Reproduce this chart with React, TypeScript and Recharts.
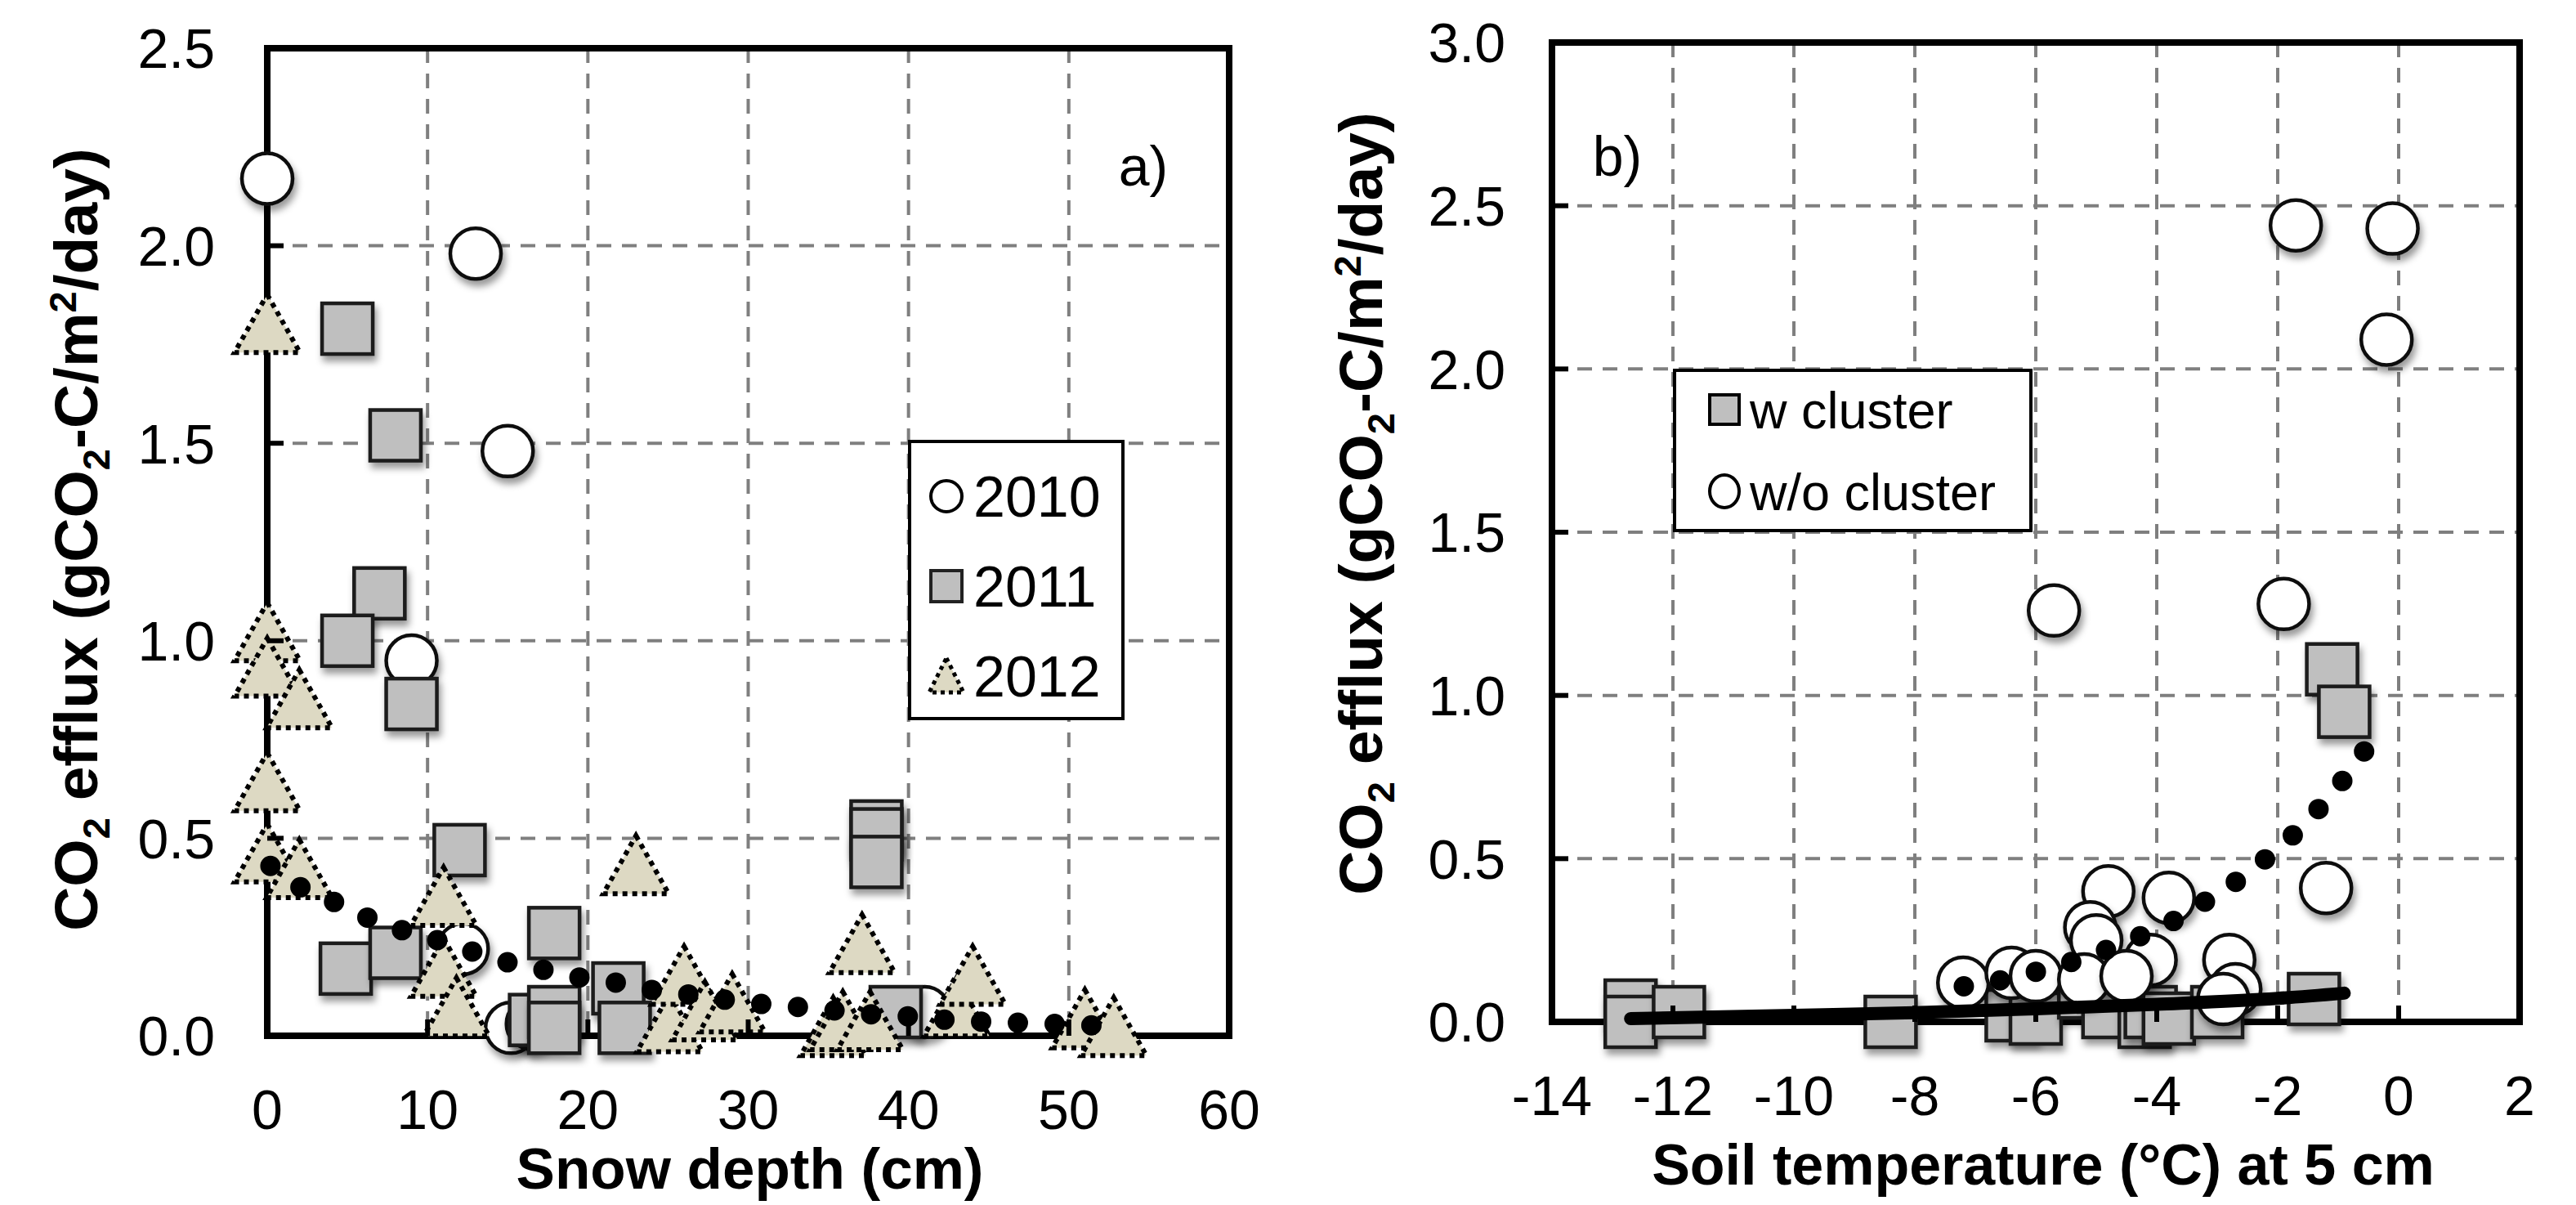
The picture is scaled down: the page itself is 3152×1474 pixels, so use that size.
import { ComposedChart, Scatter, XAxis, YAxis, CartesianGrid, Legend, ReferenceLine } from 'recharts';

type Pt = { x: number; y: number };

const FONT = '"Liberation Sans", Arial, Helvetica, sans-serif';

// a) CO2 efflux vs snow depth
const snow2010: Pt[] = [
  { x: 0, y: 2.17 }, { x: 13, y: 1.98 }, { x: 15, y: 1.48 }, { x: 9, y: 0.95 },
  { x: 12.2, y: 0.22 }, { x: 15.2, y: 0.02 }, { x: 16.5, y: 0.03 }, { x: 41, y: 0.06 },
];
const snow2011: Pt[] = [
  { x: 5, y: 1.79 }, { x: 8, y: 1.52 }, { x: 7, y: 1.12 }, { x: 5, y: 1.0 }, { x: 9, y: 0.84 },
  { x: 12, y: 0.47 }, { x: 4.9, y: 0.17 }, { x: 8, y: 0.21 }, { x: 17.9, y: 0.26 }, { x: 21.9, y: 0.12 },
  { x: 22.3, y: 0.02 }, { x: 16.7, y: 0.04 }, { x: 17.9, y: 0.06 }, { x: 17.9, y: 0.02 },
  { x: 38, y: 0.53 }, { x: 38, y: 0.51 }, { x: 38, y: 0.44 }, { x: 39.2, y: 0.06 },
];
const snow2012: Pt[] = [
  { x: 0, y: 1.8 }, { x: 0, y: 1.02 }, { x: 0, y: 0.93 }, { x: 2, y: 0.85 }, { x: 0, y: 0.64 },
  { x: 0, y: 0.46 }, { x: 2, y: 0.42 }, { x: 11, y: 0.35 }, { x: 11, y: 0.17 }, { x: 11.8, y: 0.07 },
  { x: 23, y: 0.43 }, { x: 25.1, y: 0.03 }, { x: 26, y: 0.15 }, { x: 27.3, y: 0.06 }, { x: 29, y: 0.08 },
  { x: 35.3, y: 0.02 }, { x: 35.9, y: 0.035 }, { x: 37.1, y: 0.23 }, { x: 37.6, y: 0.035 },
  { x: 43, y: 0.07 }, { x: 44, y: 0.15 }, { x: 51, y: 0.04 }, { x: 52.8, y: 0.02 },
];
const snowFit: Pt[] = [
  { x: 0.2, y: 0.43 }, { x: 1.9, y: 0.38 }, { x: 4.1, y: 0.34 }, { x: 6.2, y: 0.3 }, { x: 8.2, y: 0.27 },
  { x: 10.3, y: 0.246 }, { x: 12.5, y: 0.217 }, { x: 14.6, y: 0.19 }, { x: 16.9, y: 0.17 }, { x: 19.1, y: 0.15 },
  { x: 21.2, y: 0.139 }, { x: 23.5, y: 0.119 }, { x: 25.7, y: 0.108 }, { x: 27.9, y: 0.095 }, { x: 30.2, y: 0.083 },
  { x: 32.5, y: 0.075 }, { x: 34.8, y: 0.067 }, { x: 37, y: 0.056 }, { x: 39.2, y: 0.052 }, { x: 41.5, y: 0.043 },
  { x: 43.8, y: 0.037 }, { x: 46, y: 0.034 }, { x: 48.2, y: 0.031 }, { x: 50.5, y: 0.028 }, { x: 52.6, y: 0.024 },
];
const snowTicks = [0, 10, 20, 30, 40, 50, 60];
const effluxTicksA = [0, 0.5, 1, 1.5, 2, 2.5];
const legendA = ['2010', '2011', '2012'];

// b) CO2 efflux vs soil temperature
const withCluster: Pt[] = [
  { x: -12.7, y: 0.05 }, { x: -12.7, y: 0.0 }, { x: -11.9, y: 0.03 }, { x: -8.4, y: 0.0 },
  { x: -6.4, y: 0.02 }, { x: -6.0, y: 0.01 }, { x: -5.2, y: 0.09 }, { x: -4.8, y: 0.03 },
  { x: -4.2, y: 0.0 }, { x: -4.1, y: 0.03 }, { x: -3.8, y: 0.01 }, { x: -3.0, y: 0.03 },
  { x: -1.4, y: 0.07 }, { x: -1.1, y: 1.08 }, { x: -0.9, y: 0.95 },
];
const withoutCluster: Pt[] = [
  { x: -1.7, y: 2.44 }, { x: -0.1, y: 2.43 }, { x: -0.2, y: 2.09 }, { x: -5.7, y: 1.26 },
  { x: -1.9, y: 1.28 }, { x: -1.2, y: 0.41 }, { x: -4.8, y: 0.4 }, { x: -3.8, y: 0.38 },
  { x: -5.1, y: 0.29 }, { x: -5.0, y: 0.25 }, { x: -4.1, y: 0.19 }, { x: -2.8, y: 0.19 },
  { x: -7.2, y: 0.12 }, { x: -6.4, y: 0.15 }, { x: -6.0, y: 0.14 }, { x: -5.2, y: 0.13 },
  { x: -4.5, y: 0.14 }, { x: -2.7, y: 0.1 }, { x: -2.9, y: 0.07 },
];
const fitWithout: Pt[] = [
  { x: -7.19, y: 0.109 }, { x: -6.62, y: 0.126 }, { x: -6.03, y: 0.152 }, { x: -5.49, y: 0.179 },
  { x: -4.93, y: 0.214 }, { x: -4.4, y: 0.253 }, { x: -3.84, y: 0.297 }, { x: -3.33, y: 0.354 },
  { x: -2.83, y: 0.411 }, { x: -2.36, y: 0.476 }, { x: -1.9, y: 0.546 }, { x: -1.46, y: 0.625 },
  { x: -1.08, y: 0.704 }, { x: -0.71, y: 0.792 }, { x: -0.37, y: 0.884 },
];
const fitWith: Pt[] = [
  { x: -12.7, y: 0.01 }, { x: -10, y: 0.02 }, { x: -8, y: 0.028 }, { x: -6, y: 0.04 },
  { x: -4, y: 0.054 }, { x: -2, y: 0.072 }, { x: -0.9, y: 0.088 },
];
const tempTicks = [-14, -12, -10, -8, -6, -4, -2, 0, 2];
const effluxTicksB = [0, 0.5, 1, 1.5, 2, 2.5, 3];
const legendB = ['w cluster', 'w/o cluster'];

const axisLine = { stroke: '#000', strokeWidth: 8, strokeLinecap: 'square' as const };
const gridStyle = { stroke: '#7f7f7f', strokeWidth: 4, strokeDasharray: '18 13' };

const CircleMark = (p: any) => (
  <ellipse cx={p.cx} cy={p.cy} rx={31} ry={31} fill="#fff" stroke="#111" strokeWidth={4.5} filter="url(#mshadow)" />
);
const SquareMark = (p: any) => (
  <rect x={p.cx - 31} y={p.cy - 31} width={62} height={62} fill="#bfbfbf" stroke="#1a1a1a" strokeWidth={4.5} filter="url(#mshadow)" />
);
const TriangleMark = (p: any) => (
  <polygon
    points={`${p.cx},${p.cy - 37} ${p.cx + 40},${p.cy + 34} ${p.cx - 40},${p.cy + 34}`}
    fill="#ddd9c3" stroke="#000" strokeWidth={6} strokeDasharray="6 6"
  />
);
const NoMark = () => <g />;

const dottedFit = { stroke: '#000', strokeWidth: 25, strokeLinecap: 'round' as const, strokeDasharray: '0 45', fill: 'none' };
const solidFit = { stroke: '#000', strokeWidth: 16, strokeLinecap: 'round' as const, fill: 'none' };

const makeXTick = (off: number) => (p: any) => (
  <g>
    <line x1={p.x} x2={p.x} y1={p.y} y2={p.y - 20} stroke="#000" strokeWidth={6} />
    <text x={p.x} y={p.y + off} dy="0.36em" textAnchor="middle" fontFamily={FONT} fontSize={68} fill="#000">
      {p.payload.value}
    </text>
  </g>
);
const makeYTick = (off: number) => (p: any) => (
  <g>
    <line x1={p.x} x2={p.x + 20} y1={p.y} y2={p.y} stroke="#000" strokeWidth={6} />
    <text x={p.x - off} y={p.y} dy="0.36em" textAnchor="end" fontFamily={FONT} fontSize={68} fill="#000">
      {Number(p.payload.value).toFixed(1)}
    </text>
  </g>
);

const YTitle = ({ cx, cy }: { cx: number; cy: number }) => (
  <text
    x={cx} y={cy} dy="0.36em" textAnchor="middle" transform={`rotate(-90 ${cx} ${cy})`}
    fontFamily={FONT} fontSize={75} fontWeight="bold" fill="#000"
  >
    CO<tspan fontSize={47} dy={15}>2</tspan>
    <tspan dy={-15}> efflux (gCO</tspan>
    <tspan fontSize={47} dy={15}>2</tspan>
    <tspan dy={-15}>-C/m</tspan>
    <tspan fontSize={47} dy={-26}>2</tspan>
    <tspan dy={26}>/day)</tspan>
  </text>
);

const LegendA = () => (
  <svg width={265} height={343} style={{ display: 'block' }}>
    <rect x={2} y={2} width={261} height={339} fill="#fff" stroke="#000" strokeWidth={4} />
    {legendA.map((name, i) => {
      const cy = 69 + i * 110;
      return (
        <g key={name}>
          {i === 0 && <circle cx={47} cy={cy} r={19} fill="#fff" stroke="#000" strokeWidth={4} />}
          {i === 1 && <rect x={28} y={cy - 19} width={38} height={38} fill="#bfbfbf" stroke="#222" strokeWidth={4} />}
          {i === 2 && (
            <polygon points={`47,${cy - 22} 68,${cy + 20} 26,${cy + 20}`} fill="#ddd9c3" stroke="#000" strokeWidth={5} strokeDasharray="5 5" />
          )}
          <text x={80} y={cy} dy="0.36em" fontFamily={FONT} fontSize={70} fill="#000">{name}</text>
        </g>
      );
    })}
  </svg>
);

const LegendB = () => (
  <svg width={440} height={200} style={{ display: 'block' }}>
    <rect x={2} y={2} width={436} height={196} fill="#fff" stroke="#000" strokeWidth={4} />
    {legendB.map((name, i) => {
      const cy = 50 + i * 100;
      return (
        <g key={name}>
          {i === 0 ? (
            <rect x={45} y={cy - 18} width={36} height={36} fill="#bfbfbf" stroke="#000" strokeWidth={4} />
          ) : (
            <ellipse cx={63} cy={cy} rx={18} ry={20} fill="#fff" stroke="#000" strokeWidth={4} />
          )}
          <text x={94} y={cy} dy="0.36em" fontFamily={FONT} fontSize={63} fill="#000">{name}</text>
        </g>
      );
    })}
  </svg>
);

const PanelA = () => (
  <ComposedChart width={1580} height={1474} margin={{ top: 59, right: 76, bottom: 0, left: 0 }}>
    <CartesianGrid {...gridStyle} />
    <XAxis
      dataKey="x" type="number" domain={[0, 60]} ticks={snowTicks} interval={0} height={207}
      axisLine={axisLine} tickLine={false} tickSize={0} tickMargin={0} tick={makeXTick(90)}
      label={(p: any) => (
        <text x={p.viewBox.x + p.viewBox.width / 2 + 2} y={1428} dy="0.36em" textAnchor="middle"
          fontFamily={FONT} fontSize={71} fontWeight="bold" fill="#000">Snow depth (cm)</text>
      )}
    />
    <YAxis
      dataKey="y" type="number" domain={[0, 2.5]} ticks={effluxTicksA} interval={0} width={327}
      axisLine={axisLine} tickLine={false} tickSize={0} tickMargin={0} tick={makeYTick(64)}
      label={() => (
        <g>
          <YTitle cx={92} cy={660} />
          <text x={1399} y={203} dy="0.36em" textAnchor="middle" fontFamily={FONT} fontSize={68} fill="#000">a)</text>
        </g>
      )}
    />
    <ReferenceLine y={2.5} stroke="#000" strokeWidth={8} strokeLinecap="square" />
    <ReferenceLine x={60} stroke="#000" strokeWidth={8} strokeLinecap="square" />
    <Legend
      layout="horizontal" verticalAlign="middle" align="center" content={() => <LegendA />}
      wrapperStyle={{ left: 1111, top: 538, width: 265, height: 343 }}
    />
    <Scatter name="2010" data={snow2010} shape={CircleMark} isAnimationActive={false} />
    <Scatter name="2011" data={snow2011} shape={SquareMark} isAnimationActive={false} />
    <Scatter name="2012" data={snow2012} shape={TriangleMark} isAnimationActive={false} />
    <Scatter
      name="fit" data={snowFit} shape={NoMark} line={dottedFit} lineJointType="monotoneX"
      legendType="none" isAnimationActive={false}
    />
  </ComposedChart>
);

const PanelB = () => (
  <ComposedChart width={1572} height={1474} margin={{ top: 52, right: 69, bottom: 0, left: 0 }}>
    <CartesianGrid {...gridStyle} />
    <XAxis
      dataKey="x" type="number" domain={[-14, 2]} ticks={tempTicks} interval={0} height={224}
      axisLine={axisLine} tickLine={false} tickSize={0} tickMargin={0} tick={makeXTick(90)}
      label={(p: any) => (
        <text x={p.viewBox.x + p.viewBox.width / 2 + 9} y={1424} dy="0.36em" textAnchor="middle"
          fontFamily={FONT} fontSize={70} fontWeight="bold" fill="#000">Soil temperature (°C) at 5 cm</text>
      )}
    />
    <YAxis
      dataKey="y" type="number" domain={[0, 3]} ticks={effluxTicksB} interval={0} width={319}
      axisLine={axisLine} tickLine={false} tickSize={0} tickMargin={0} tick={makeYTick(57)}
      label={() => (
        <g>
          <YTitle cx={84} cy={616} />
          <text x={399} y={191} dy="0.36em" textAnchor="middle" fontFamily={FONT} fontSize={68} fill="#000">b)</text>
        </g>
      )}
    />
    <ReferenceLine y={3} stroke="#000" strokeWidth={8} strokeLinecap="square" />
    <ReferenceLine x={2} stroke="#000" strokeWidth={8} strokeLinecap="square" />
    <Legend
      layout="horizontal" verticalAlign="middle" align="center" content={() => <LegendB />}
      wrapperStyle={{ left: 467, top: 451, width: 440, height: 200 }}
    />
    <Scatter name="w cluster" data={withCluster} shape={SquareMark} isAnimationActive={false} />
    <Scatter name="w/o cluster" data={withoutCluster} shape={CircleMark} isAnimationActive={false} />
    <Scatter
      name="fit w" data={fitWith} shape={NoMark} line={solidFit} lineJointType="monotoneX"
      legendType="none" isAnimationActive={false}
    />
    <Scatter
      name="fit w/o" data={fitWithout} shape={NoMark} line={dottedFit} lineJointType="monotoneX"
      legendType="none" isAnimationActive={false}
    />
  </ComposedChart>
);

export default function App() {
  return (
    <div style={{ position: 'absolute', left: 0, top: 0, width: 3152, height: 1474, background: '#fff', fontFamily: FONT }}>
      <svg width={0} height={0} style={{ position: 'absolute' }}>
        <defs>
          <filter id="mshadow" x="-50%" y="-50%" width="200%" height="200%">
            <feDropShadow dx={3} dy={7} stdDeviation={4} floodColor="#000" floodOpacity={0.4} />
          </filter>
        </defs>
      </svg>
      <div style={{ position: 'absolute', left: 0, top: 0 }}>
        <PanelA />
      </div>
      <div style={{ position: 'absolute', left: 1580, top: 0 }}>
        <PanelB />
      </div>
    </div>
  );
}
